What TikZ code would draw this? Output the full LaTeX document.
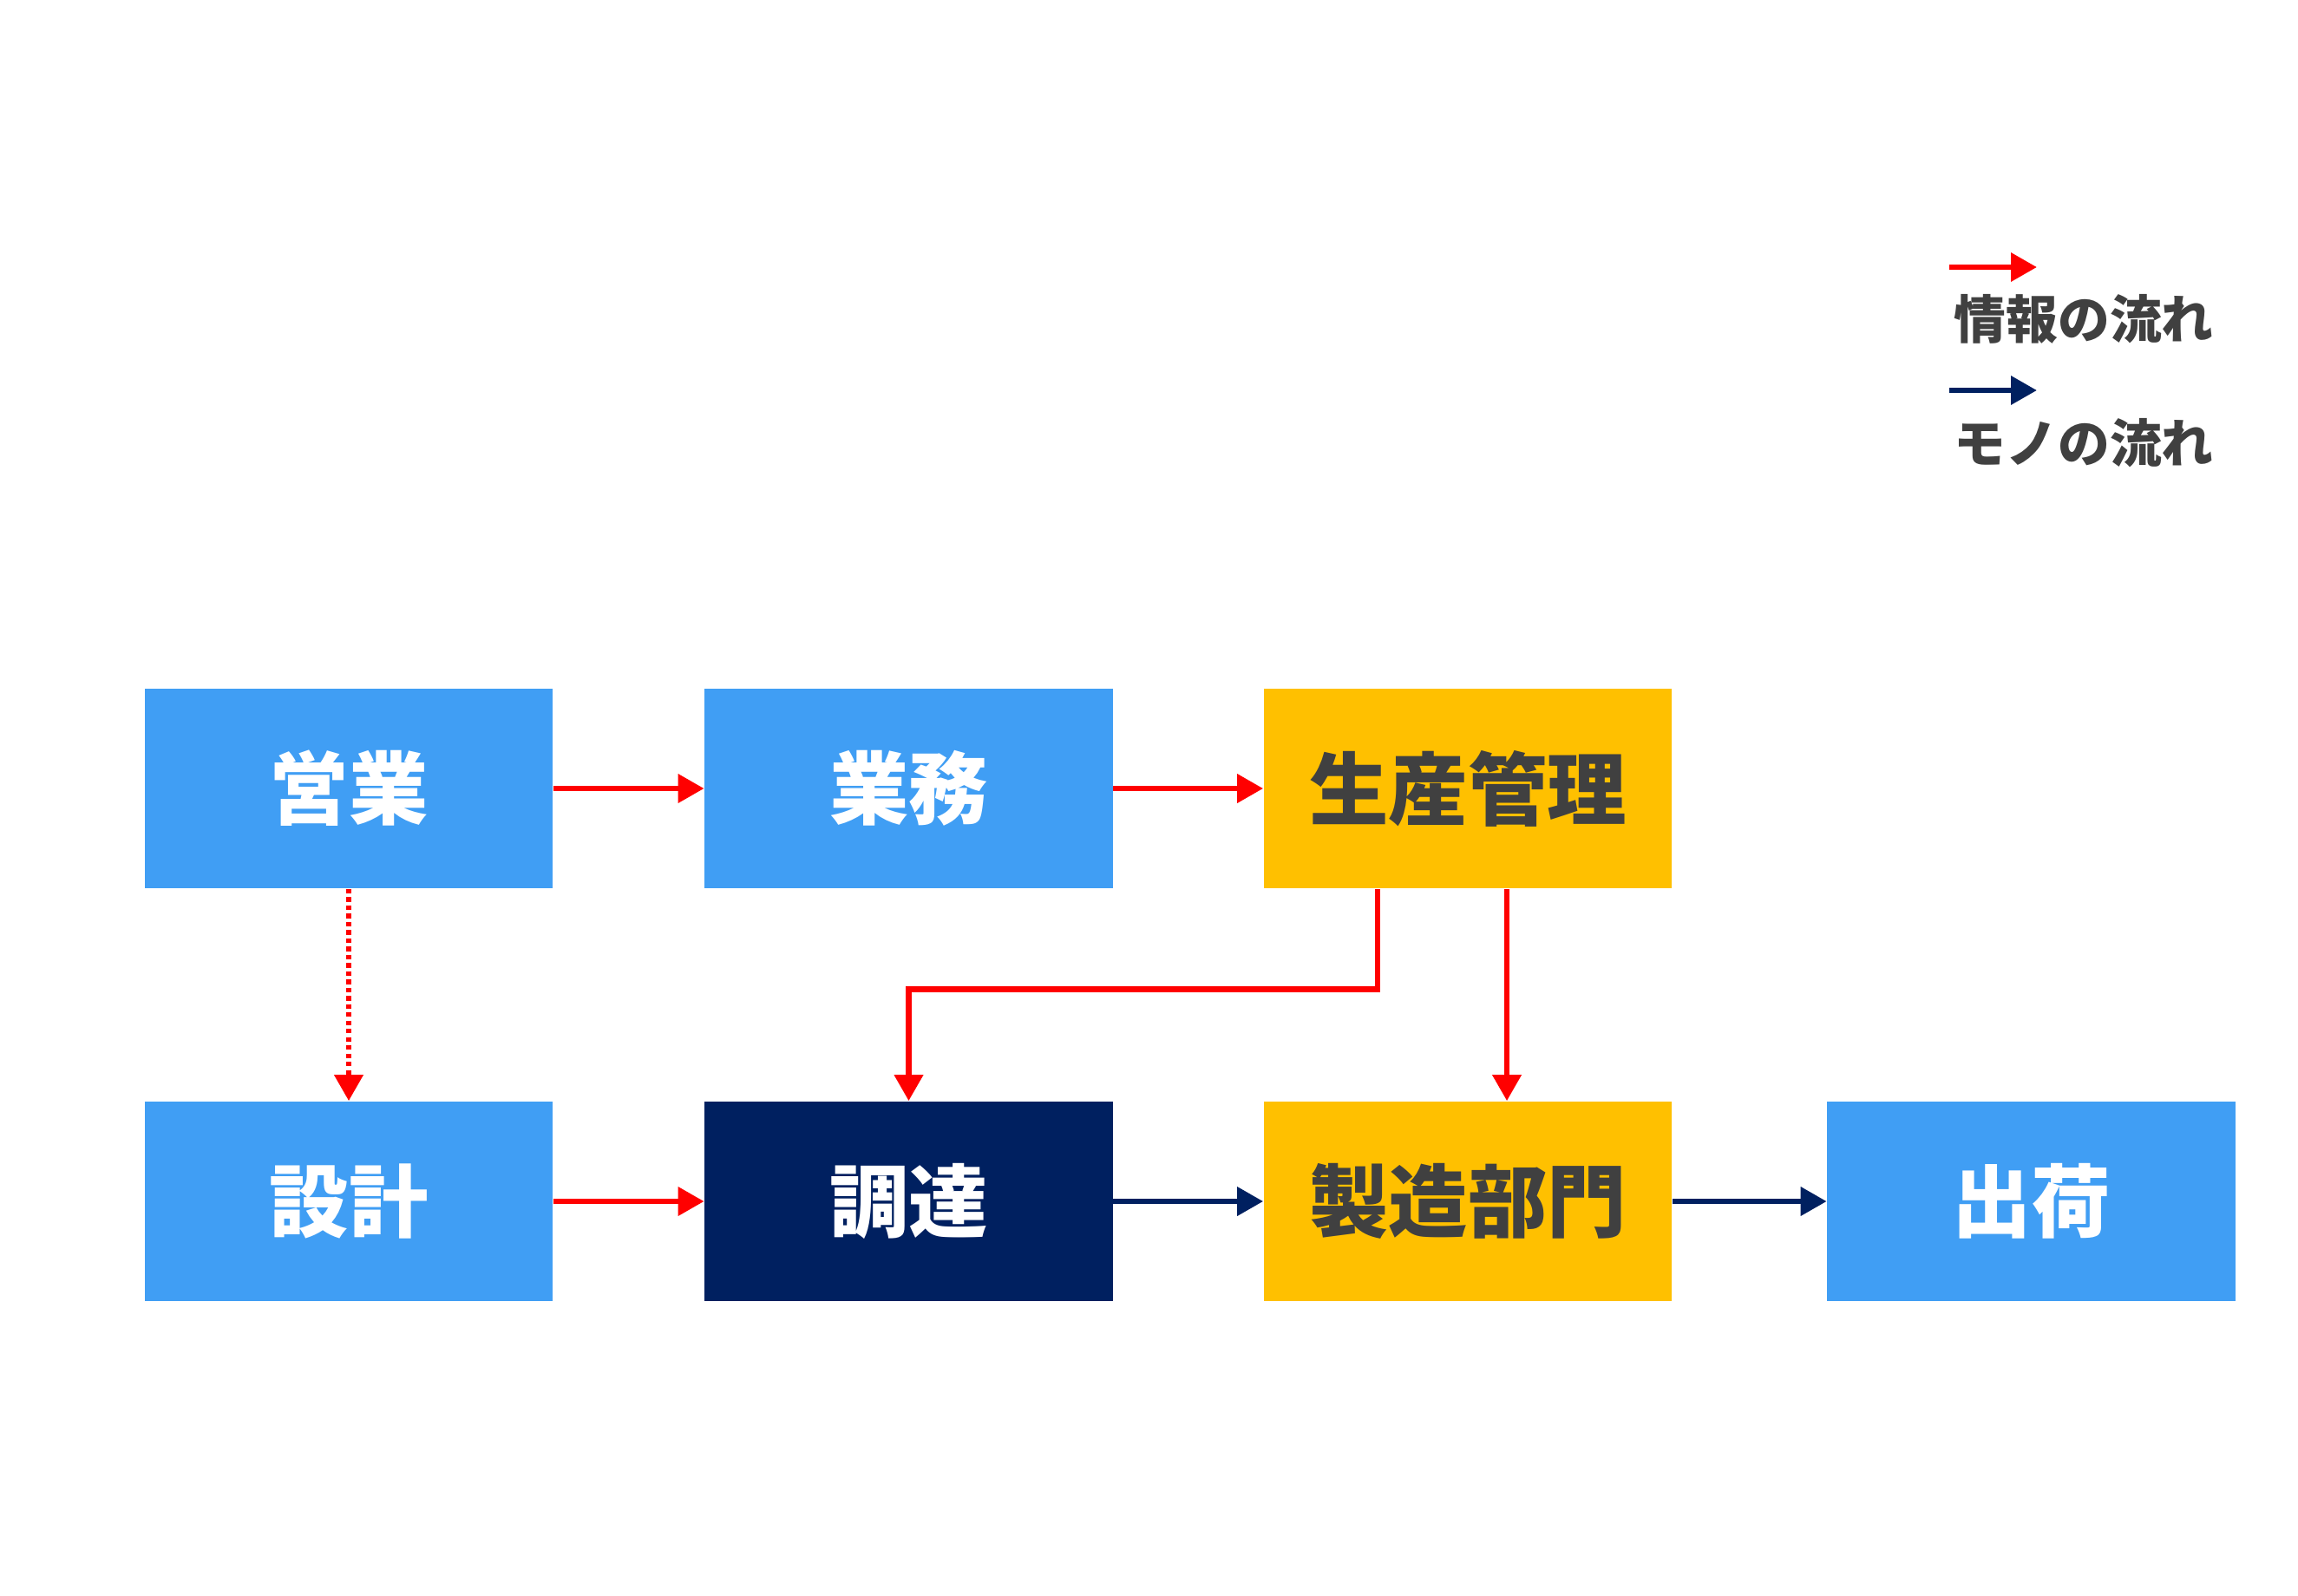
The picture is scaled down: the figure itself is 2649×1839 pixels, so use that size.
\documentclass[tikz,border=0pt]{standalone}
\usepackage{fontspec}
\usetikzlibrary{arrows.meta}
\newfontfamily\jp{Noto Sans CJK JP}
\definecolor{boxblue}{HTML}{409EF4}
\definecolor{navy}{HTML}{002060}
\definecolor{gold}{HTML}{FFC000}
\definecolor{darktext}{HTML}{404040}
\definecolor{infored}{HTML}{FF0000}
\tikzset{
  box/.style={minimum width=4.7cm, minimum height=2.3cm, inner sep=0pt, draw=none,
    font=\jp\bfseries\fontsize{26}{30}\selectfont},
  bluebox/.style={box, fill=boxblue, text=white},
  navybox/.style={box, fill=navy, text=white},
  goldbox/.style={box, fill=gold, text=darktext},
  info/.style={draw=infored, line width=1.9pt, -{Triangle[length=0.3cm,width=0.32cm]}},
  mono/.style={draw=navy, line width=1.9pt, -{Triangle[length=0.3cm,width=0.32cm]}},
  dotline/.style={dash pattern=on 1.5pt off 1.2pt},
  legtext/.style={anchor=west, inner sep=0pt, text=darktext, font=\jp\bfseries\fontsize{17}{20}\selectfont}
}
\begin{document}
\begin{tikzpicture}[x=0.01cm,y=-0.01cm]
\useasboundingbox (0,0) rectangle (2649,1839);
% boxes
\node[bluebox] (eigyo) at (402,909) {\raisebox{-0.05cm}{営業}};
\node[bluebox] (gyomu) at (1047.5,909) {\raisebox{-0.05cm}{業務}};
\node[goldbox] (seisan) at (1692,909) {\raisebox{-0.05cm}{生産管理}};
\node[bluebox] (sekkei) at (402,1385) {\raisebox{-0.05cm}{設計}};
\node[navybox] (chotatsu) at (1047.5,1385) {\raisebox{-0.05cm}{調達}};
\node[goldbox] (seizo) at (1692,1385) {\raisebox{-0.05cm}{製造部門}};
\node[bluebox] (shukka) at (2341.5,1385) {\raisebox{-0.05cm}{出荷}};
% connectors
\draw[info] (eigyo) -- (gyomu);
\draw[info] (gyomu) -- (seisan);
\draw[info,dotline] (eigyo) -- (sekkei);
\draw[info] ([xshift=-1.04cm]seisan.south) -- ++(0,116) -| (chotatsu.north);
\draw[info] ([xshift=0.45cm]seisan.south) -- ([xshift=0.45cm]seizo.north);
\draw[info] (sekkei) -- (chotatsu);
\draw[mono] (chotatsu) -- (seizo);
\draw[mono] (seizo) -- (shukka);
% legend
\coordinate (l1a) at (2247,308);
\coordinate (l1b) at (2348,308);
\draw[info] (l1a) -- (l1b);
\node[legtext] (l1t) at (2252,368) {情報の流れ};
\coordinate (l2a) at (2247,450);
\coordinate (l2b) at (2348,450);
\draw[mono] (l2a) -- (l2b);
\node[legtext] (l2t) at (2252,511) {モノの流れ};
\end{tikzpicture}
\end{document}
